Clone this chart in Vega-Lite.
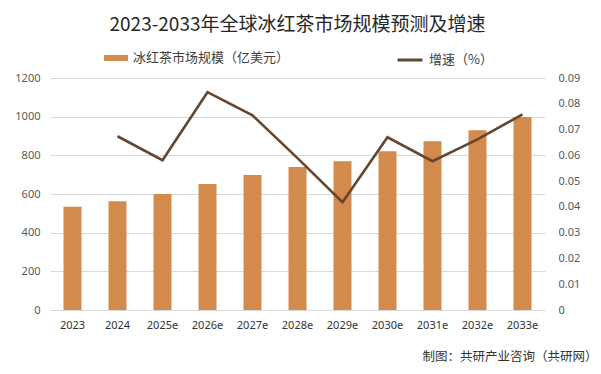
{
  "$schema": "https://vega.github.io/schema/vega-lite/v6.json",
  "width": 495,
  "height": 232,
  "autosize": "none",
  "padding": {"left": 50, "top": 78, "right": 56, "bottom": 64},
  "background": "white",
  "config": {"view": {"stroke": null}, "font": "Noto Sans CJK SC"},
  "title": {
    "text": "2023-2033年全球冰红茶市场规模预测及增速",
    "fontSize": 19,
    "font": "Noto Sans CJK SC",
    "fontWeight": "normal",
    "color": "#262626",
    "anchor": "middle",
    "frame": "group",
    "offset": 11
  },
  "data": {
    "values": [
      {"year": "2023", "size": 534, "growth": null},
      {"year": "2024", "size": 563, "growth": 0.0674},
      {"year": "2025e", "size": 600, "growth": 0.0581},
      {"year": "2026e", "size": 652, "growth": 0.0845},
      {"year": "2027e", "size": 698, "growth": 0.0755},
      {"year": "2028e", "size": 740, "growth": 0.0589},
      {"year": "2029e", "size": 770, "growth": 0.0418},
      {"year": "2030e", "size": 821, "growth": 0.0670},
      {"year": "2031e", "size": 873, "growth": 0.0577},
      {"year": "2032e", "size": 930, "growth": 0.0662},
      {"year": "2033e", "size": 998, "growth": 0.0759}
    ]
  },
  "encoding": {
    "x": {
      "field": "year",
      "type": "ordinal",
      "sort": null,
      "scale": {"paddingInner": 0.6, "paddingOuter": 0.3},
      "axis": {
        "labelAngle": 0,
        "labelFont": "Noto Sans",
        "labelFontSize": 11,
        "labelColor": "#333333",
        "labelPadding": 9,
        "ticks": false,
        "domain": true,
        "domainColor": "#D9D9D9",
        "title": "制图：共研产业咨询（共研网）",
        "titleFont": "Noto Sans CJK SC",
        "titleFontSize": 12.5,
        "titleFontWeight": "normal",
        "titleColor": "#333333",
        "titleX": 547,
        "titleY": 46,
        "titleAlign": "right",
        "titleBaseline": "middle",
        "titleAnchor": null
      }
    }
  },
  "layer": [
    {
      "mark": {"type": "bar"},
      "encoding": {
        "y": {
          "field": "size",
          "type": "quantitative",
          "scale": {"domain": [0, 1200]},
          "axis": {
            "values": [0, 200, 400, 600, 800, 1000, 1200],
            "format": "d",
            "title": null,
            "domain": false,
            "ticks": false,
            "grid": true,
            "gridColor": "#D9D9D9",
            "labelFont": "Noto Sans",
            "labelFontSize": 11,
            "labelColor": "#595959",
            "labelPadding": 10
          }
        },
        "fill": {
          "datum": "冰红茶市场规模（亿美元）",
          "scale": {"range": ["#D38B4D"]},
          "legend": {
            "title": null,
            "orient": "none",
            "legendX": 54,
            "legendY": -32,
            "symbolType": "M-1,-0.25H1V0.25H-1Z",
            "symbolSize": 576,
            "symbolStrokeWidth": 0,
            "labelFont": "Noto Sans CJK SC",
            "labelFontSize": 13,
            "labelColor": "#404040",
            "labelOffset": 5
          }
        }
      }
    },
    {
      "mark": {"type": "line", "strokeWidth": 2.6},
      "encoding": {
        "y": {
          "field": "growth",
          "type": "quantitative",
          "scale": {"domain": [0, 0.09]},
          "axis": {
            "orient": "right",
            "values": [0, 0.01, 0.02, 0.03, 0.04, 0.05, 0.06, 0.07, 0.08, 0.09],
            "format": ".2~f",
            "title": null,
            "domain": false,
            "ticks": false,
            "grid": false,
            "labelFont": "Noto Sans",
            "labelFontSize": 11,
            "labelColor": "#595959",
            "labelPadding": 13
          }
        },
        "stroke": {
          "datum": "增速（%）",
          "scale": {"range": ["#654730"]},
          "legend": {
            "title": null,
            "orient": "none",
            "legendX": 346,
            "legendY": -32,
            "symbolType": "stroke",
            "symbolSize": 625,
            "symbolStrokeWidth": 3,
            "labelFont": "Noto Sans CJK SC",
            "labelFontSize": 13,
            "labelColor": "#404040",
            "labelOffset": 5
          }
        }
      }
    }
  ],
  "resolve": {"scale": {"y": "independent"}}
}
